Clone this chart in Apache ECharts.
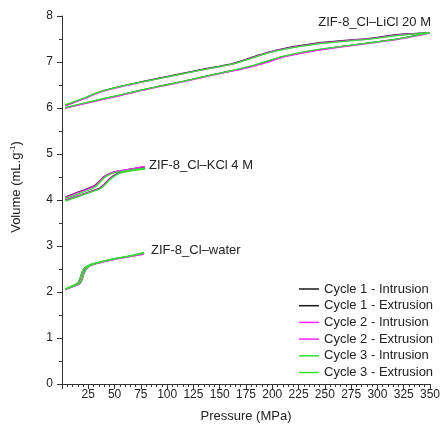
<!DOCTYPE html>
<html>
<head>
<meta charset="utf-8">
<script src="https://cdn.jsdelivr.net/npm/echarts@6/dist/echarts.min.js"></script>
<style>html,body{margin:0;padding:0;background:#fff}#c{width:444px;height:432px}</style>
</head>
<body>
<div id="c"></div>
<script>
// ---- data (pressure in MPa, volume in mL/g) ----
var xTicks = [25, 50, 75, 100, 125, 150, 175, 200, 225, 250, 275, 300, 325, 350];
var cycleNames = ['Cycle 1 - Intrusion', 'Cycle 1 - Extrusion', 'Cycle 2 - Intrusion', 'Cycle 2 - Extrusion', 'Cycle 3 - Intrusion', 'Cycle 3 - Extrusion'];
var cycleColors = ['#1a1a1a', '#1a1a1a', '#ff22ff', '#ff22ff', '#33e033', '#33e033'];

// ZIF-8_Cl–LiCl 20 M
var liclIntrP = [3, 25, 50, 84, 115, 147, 179, 195, 211, 242, 290, 321, 350];
var liclIntrC1 = [6.00, 6.12, 6.25, 6.43, 6.58, 6.74, 6.90, 7.01, 7.12, 7.26, 7.41, 7.51, 7.64];
var liclIntrC2 = [6.00, 6.11, 6.24, 6.42, 6.57, 6.73, 6.89, 6.99, 7.11, 7.25, 7.40, 7.50, 7.63];
var liclIntrC3 = [6.01, 6.13, 6.26, 6.43, 6.58, 6.74, 6.91, 7.02, 7.13, 7.27, 7.41, 7.51, 7.64];
var liclExtrP = [3, 20, 36, 60, 84, 131, 163, 179, 204, 242, 290, 321, 350];
var liclExtrC1 = [6.05, 6.20, 6.35, 6.49, 6.61, 6.83, 6.97, 7.09, 7.26, 7.41, 7.51, 7.60, 7.64];
var liclExtrC2 = [6.05, 6.19, 6.34, 6.48, 6.60, 6.82, 6.96, 7.08, 7.25, 7.40, 7.50, 7.59, 7.63];
var liclExtrC3 = [6.07, 6.21, 6.35, 6.49, 6.60, 6.82, 6.96, 7.07, 7.24, 7.39, 7.49, 7.58, 7.64];

// ZIF-8_Cl–KCl 4 M
var kclIntrP = [3, 15, 30, 36, 40, 46, 52, 58, 65, 79];
var kclIntrC1 = [4.00, 4.09, 4.21, 4.26, 4.34, 4.48, 4.57, 4.62, 4.65, 4.69];
var kclIntrC2 = [4.00, 4.09, 4.20, 4.25, 4.33, 4.47, 4.56, 4.61, 4.65, 4.70];
var kclIntrC3 = [3.98, 4.07, 4.19, 4.24, 4.31, 4.45, 4.55, 4.60, 4.63, 4.67];
var kclExtrP = [3, 15, 30, 35, 40, 46, 52, 65, 79];
var kclExtrC1 = [4.06, 4.17, 4.30, 4.40, 4.51, 4.58, 4.62, 4.67, 4.72];
var kclExtrC2 = [4.05, 4.16, 4.29, 4.39, 4.50, 4.57, 4.62, 4.67, 4.73];
var kclExtrC3 = [4.03, 4.13, 4.26, 4.36, 4.48, 4.56, 4.60, 4.65, 4.69];

// ZIF-8_Cl–water
var waterIntrP = [3, 10, 17, 19, 21, 23, 27, 35, 46, 55, 65, 78];
var waterIntrC1 = [2.05, 2.12, 2.19, 2.28, 2.42, 2.50, 2.58, 2.64, 2.70, 2.74, 2.78, 2.84];
var waterIntrC2 = [2.05, 2.11, 2.18, 2.26, 2.40, 2.49, 2.57, 2.63, 2.69, 2.73, 2.77, 2.82];
var waterIntrC3 = [2.06, 2.12, 2.19, 2.27, 2.41, 2.50, 2.58, 2.64, 2.70, 2.74, 2.78, 2.84];
var waterExtrP = [3, 10, 15, 17, 19, 21, 25, 35, 46, 55, 65, 78];
var waterExtrC1 = [2.06, 2.13, 2.19, 2.28, 2.42, 2.50, 2.57, 2.64, 2.70, 2.74, 2.78, 2.85];
var waterExtrC2 = [2.06, 2.13, 2.18, 2.27, 2.41, 2.49, 2.57, 2.64, 2.70, 2.74, 2.78, 2.84];
var waterExtrC3 = [2.07, 2.14, 2.20, 2.29, 2.43, 2.51, 2.58, 2.65, 2.71, 2.75, 2.79, 2.86];

var sampleLabels = ['ZIF-8_Cl\u2013LiCl 20 M', 'ZIF-8_Cl\u2013KCl 4 M', 'ZIF-8_Cl\u2013water'];

// ---- build ----
function pairs(xs, ys) { return xs.map(function (x, i) { return [x, ys[i]]; }); }
var groups = [
  [0, liclIntrP, liclIntrC1], [1, liclExtrP, liclExtrC1],
  [0, kclIntrP, kclIntrC1], [1, kclExtrP, kclExtrC1],
  [0, waterIntrP, waterIntrC1], [1, waterExtrP, waterExtrC1],
  [2, liclIntrP, liclIntrC2], [3, liclExtrP, liclExtrC2],
  [2, kclIntrP, kclIntrC2], [3, kclExtrP, kclExtrC2],
  [2, waterIntrP, waterIntrC2], [3, waterExtrP, waterExtrC2],
  [4, liclIntrP, liclIntrC3], [5, liclExtrP, liclExtrC3],
  [4, kclIntrP, kclIntrC3], [5, kclExtrP, kclExtrC3],
  [4, waterIntrP, waterIntrC3], [5, waterExtrP, waterExtrC3]
];
var series = groups.map(function (g) {
  return {
    type: 'line', name: cycleNames[g[0]], data: pairs(g[1], g[2]),
    symbol: 'none', smooth: 0.35, animation: false,
    lineStyle: { color: cycleColors[g[0]], width: 1.3 },
    itemStyle: { color: cycleColors[g[0]] }
  };
});

var chart = echarts.init(document.getElementById('c'), null, { renderer: 'canvas' });
var font = 'Liberation Sans, Arial, sans-serif';
chart.setOption({
  backgroundColor: '#fff',
  animation: false,
  grid: { left: 62, right: 14, top: 16, bottom: 48, containLabel: false },
  xAxis: {
    type: 'value', min: 0, max: 350, interval: 25,
    name: 'Pressure (MPa)', nameLocation: 'middle', nameGap: 26,
    nameTextStyle: { fontFamily: font, fontSize: 13, color: '#222' },
    axisLine: { show: true, lineStyle: { color: '#333', width: 1 } },
    axisTick: { show: true, length: 5, lineStyle: { color: '#333' } },
    minorTick: { show: true, splitNumber: 5, length: 3, lineStyle: { color: '#333' } },
    splitLine: { show: false },
    axisLabel: {
      fontFamily: font, fontSize: 12, color: '#222', margin: 5,
      formatter: function (v) { return xTicks.indexOf(v) >= 0 ? String(v) : ''; }
    }
  },
  yAxis: {
    type: 'value', min: 0, max: 8, interval: 1,
    name: '{a|Volume (mL.g}{s|-1}{a|)}', nameLocation: 'middle', nameGap: 38,
    nameTextStyle: {
      padding: [0, 0, 0, 26],
      rich: {
        a: { fontFamily: font, fontSize: 13, color: '#222' },
        s: { fontFamily: font, fontSize: 8, color: '#222', verticalAlign: 'top', padding: [0, 0, 7, 0] }
      }
    },
    axisLine: { show: true, lineStyle: { color: '#333', width: 1 } },
    axisTick: { show: true, length: 5, lineStyle: { color: '#333' } },
    minorTick: { show: true, splitNumber: 2, length: 3, lineStyle: { color: '#333' } },
    splitLine: { show: false },
    axisLabel: { fontFamily: font, fontSize: 12, color: '#222', margin: 9 }
  },
  legend: {
    data: cycleNames, orient: 'vertical', left: 294, top: 277,
    icon: 'rect', itemWidth: 20, itemHeight: 1.5, itemGap: 2.7,
    textStyle: { fontFamily: font, fontSize: 13, lineHeight: 14, color: '#222' },
    selectedMode: false
  },
  series: series,
  graphic: [
    { type: 'text', right: 13, top: 16, style: { text: sampleLabels[0], font: '13px ' + font, fill: '#222' } },
    { type: 'text', left: 149, top: 159, style: { text: sampleLabels[1], font: '13px ' + font, fill: '#222' } },
    { type: 'text', left: 151, top: 244, style: { text: sampleLabels[2], font: '13px ' + font, fill: '#222' } }
  ]
});
</script>
</body>
</html>
